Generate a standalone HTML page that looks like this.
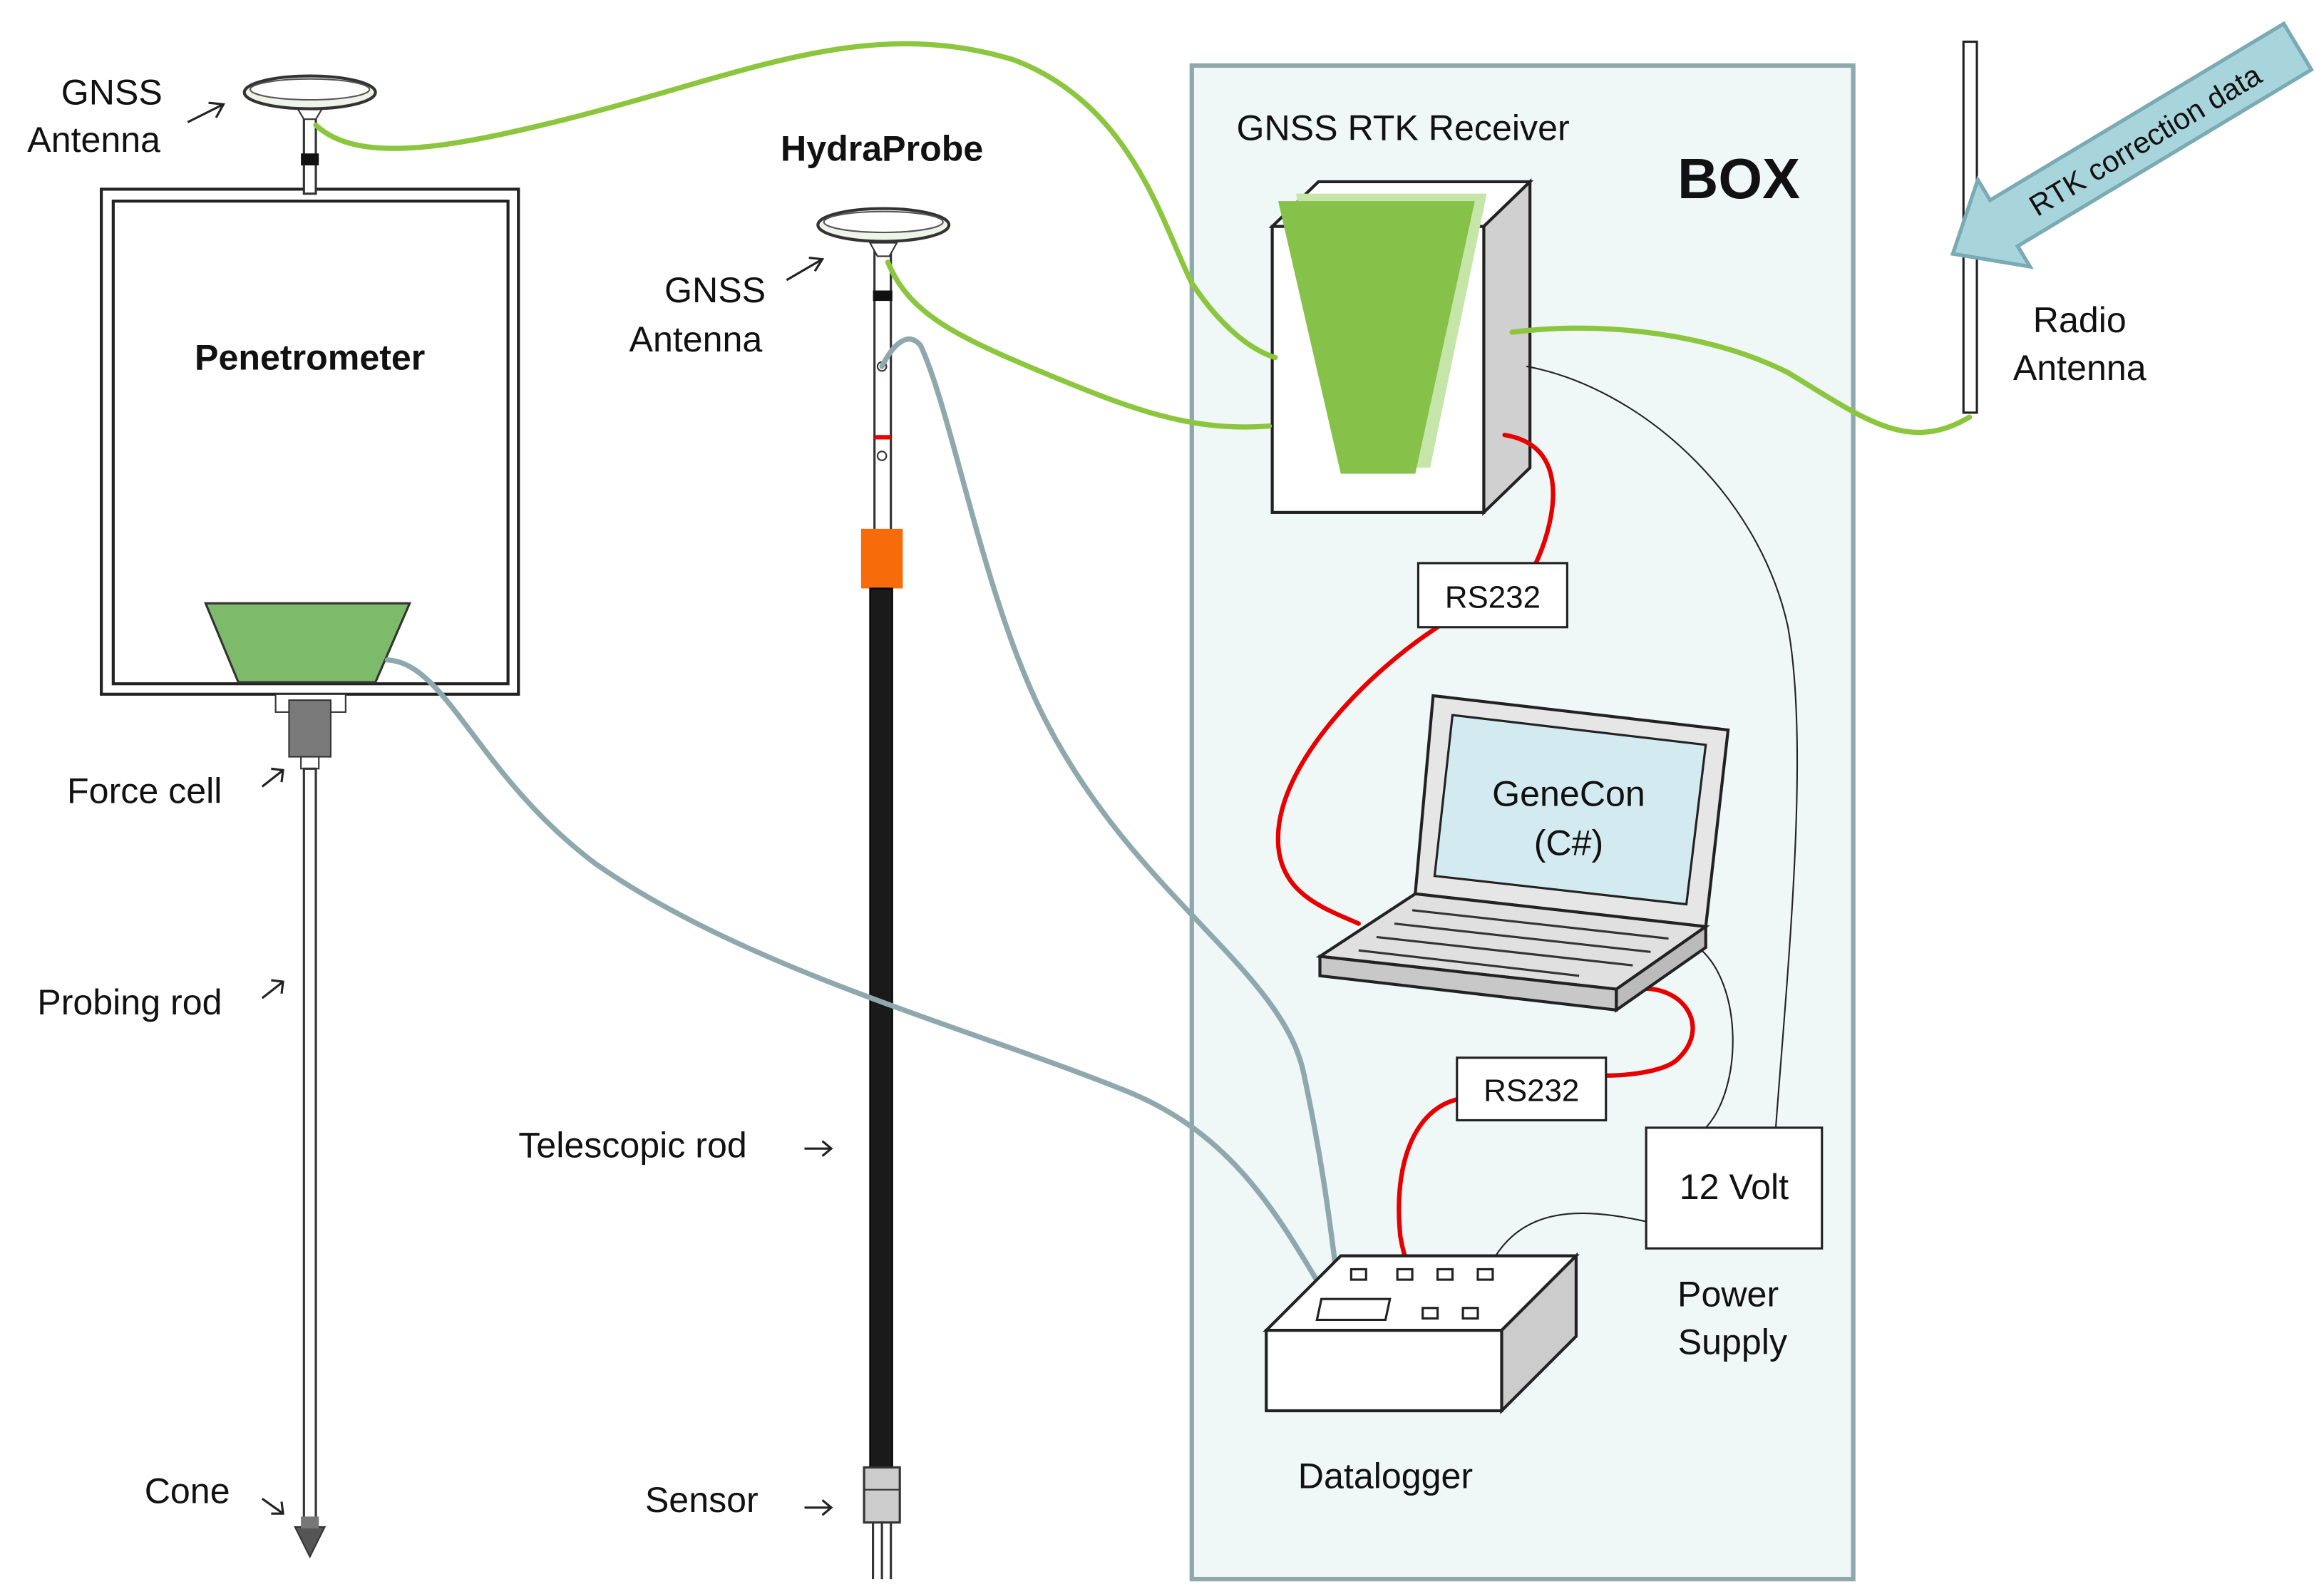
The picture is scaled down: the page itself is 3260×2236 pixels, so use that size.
<!DOCTYPE html>
<html><head><meta charset="utf-8"><style>
html,body{margin:0;padding:0;background:#fff;}
svg{display:block;}
text{font-family:"Liberation Sans",sans-serif;fill:#111;}
</style></head><body>
<svg width="3260" height="2236" viewBox="0 0 1560 1070" xmlns="http://www.w3.org/2000/svg">
<!-- BOX -->
<rect x="800" y="44" width="444" height="1016" fill="#eff7f7" stroke="#8fa8ad" stroke-width="3"/>
<text x="1126" y="133" font-size="38" font-weight="bold">BOX</text>
<text x="830" y="94" font-size="24">GNSS RTK Receiver</text>

<!-- Penetrometer -->
<rect x="68" y="127" width="280" height="339" fill="#fff" stroke="#222" stroke-width="2"/>
<rect x="76" y="135" width="265" height="324" fill="#fff" stroke="#222" stroke-width="2"/>
<text x="208" y="248" font-size="24" font-weight="bold" text-anchor="middle">Penetrometer</text>
<polygon points="138,405 275,405 252,458 160,458" fill="#7dba6a" stroke="#333" stroke-width="1.5"/>
<!-- top-left antenna -->
<rect x="204" y="72" width="8" height="58" fill="#fff" stroke="#333" stroke-width="1.5"/>
<rect x="202" y="103" width="12" height="8" fill="#111"/>
<path d="M198,70 L218,70 L212,80 L204,80 Z" fill="#fff" stroke="#333"/>
<ellipse cx="208" cy="62" rx="44" ry="11" fill="#eef5e8" stroke="#333" stroke-width="2"/>
<ellipse cx="208" cy="60" rx="40" ry="7" fill="#fff" stroke="#555" stroke-width="1"/>
<text x="75" y="70" font-size="24" text-anchor="middle">GNSS</text>
<text x="63" y="102" font-size="24" text-anchor="middle">Antenna</text>
<path d="M126,82 L150,70 M140,69 L150,70 L145,79" fill="none" stroke="#222" stroke-width="1.5"/>
<!-- Force cell & rod -->
<rect x="185" y="466" width="47" height="12" fill="#fff" stroke="#333"/>
<rect x="194" y="470" width="28" height="38" fill="#7a7a7a" stroke="#333"/>
<rect x="202" y="508" width="12" height="8" fill="#fff" stroke="#333"/>
<rect x="204" y="516" width="8" height="505" fill="#fff" stroke="#333" stroke-width="1.5"/>
<polygon points="198,1025 218,1025 208,1045" fill="#555" stroke="#333"/>
<rect x="202" y="1018" width="12" height="8" fill="#777"/>
<text x="45" y="539" font-size="24">Force cell</text>
<text x="25" y="681" font-size="24">Probing rod</text>
<text x="97" y="1009" font-size="24">Cone</text>
<g fill="none" stroke="#222" stroke-width="1.5">
<path d="M176,528 L190,517 M182,516 L190,517 L189,525"/>
<path d="M176,670 L190,659 M182,658 L190,659 L189,667"/>
<path d="M176,1006 L190,1016 M189,1008 L190,1016 L182,1016"/>
<path d="M528,188 L552,174 M543,173 L552,174 L547,182"/>
<path d="M540,771 L558,771 M552,766 L558,771 L552,776"/>
<path d="M540,1012 L558,1012 M552,1007 L558,1012 L552,1017"/>
</g>

<!-- HydraProbe -->
<text x="592" y="108" font-size="24" font-weight="bold" text-anchor="middle">HydraProbe</text>
<rect x="587" y="168" width="11" height="188" fill="#fff" stroke="#333" stroke-width="1.5"/>
<rect x="586" y="195" width="13" height="7" fill="#111"/>
<rect x="587" y="292" width="11" height="3" fill="#e00"/>
<circle cx="592" cy="306" r="3" fill="#fff" stroke="#333"/>
<circle cx="592" cy="246" r="3" fill="#fff" stroke="#333"/>
<path d="M584,163 L602,163 L597,172 L589,172 Z" fill="#fff" stroke="#333"/>
<ellipse cx="593" cy="151" rx="44" ry="11" fill="#eef5e8" stroke="#333" stroke-width="2"/>
<ellipse cx="593" cy="149" rx="40" ry="7" fill="#fff" stroke="#555"/>
<rect x="578" y="355" width="28" height="40" fill="#f76b0b"/>
<rect x="584" y="395" width="15" height="590" fill="#1a1a1a" stroke="#000"/>
<rect x="580" y="985" width="24" height="37" fill="#ccc" stroke="#333" stroke-width="1.5"/>
<line x1="580" y1="1000" x2="604" y2="1000" stroke="#333"/>
<path d="M586,1022 V1060 M592,1022 V1060 M598,1022 V1060" stroke="#333" stroke-width="1.5"/>
<text x="480" y="203" font-size="24" text-anchor="middle">GNSS</text>
<text x="467" y="236" font-size="24" text-anchor="middle">Antenna</text>
<text x="348" y="777" font-size="24">Telescopic rod</text>
<text x="433" y="1015" font-size="24">Sensor</text>

<!-- Receiver 3D box -->
<polygon points="854,152 885,122 1027,122 996,152" fill="#fff" stroke="#222" stroke-width="2"/>
<polygon points="996,152 1027,122 1027,314 996,344" fill="#d0d0d0" stroke="#222" stroke-width="2"/>
<rect x="854" y="152" width="142" height="192" fill="#fff" stroke="#222" stroke-width="2"/>
<polygon points="870,130 998,130 960,314 905,314" fill="#c5e6a8"/>
<polygon points="858,135 990,135 950,318 900,318" fill="#86c24a"/>

<!-- Radio antenna -->
<rect x="1318" y="28" width="9" height="249" fill="#fff" stroke="#222" stroke-width="1.5"/>
<text x="1396" y="223" font-size="24" text-anchor="middle">Radio</text>
<text x="1396" y="255" font-size="24" text-anchor="middle">Antenna</text>
<!-- RTK arrow -->
<g transform="translate(1448,88) rotate(-31)">
<polygon points="-120,-18 110,-18 110,18 -120,18 -120,34 -160,0 -120,-34" fill="#a8d4dc" stroke="#7aaab4" stroke-width="2.5"/>
<text x="-10" y="8" font-size="20" text-anchor="middle">RTK correction data</text>
</g>

<!-- Cables -->
<g fill="none" stroke-linecap="round">
<path d="M212,84 C240,110 300,100 380,80 C500,50 580,10 680,40 C760,70 780,150 800,190 C820,220 840,235 856,240" stroke="#8cc63f" stroke-width="3.5"/>
<path d="M596,176 C610,210 640,225 700,250 C760,275 800,290 852,286" stroke="#8cc63f" stroke-width="3.5"/>
<path d="M1015,223 C1080,215 1150,225 1200,250 C1250,280 1280,305 1322,280" stroke="#8cc63f" stroke-width="3.5"/>
<path d="M260,443 C300,445 320,520 400,580 C500,650 650,690 750,730 C830,760 860,820 895,878" stroke="#8fa8ad" stroke-width="3.5"/>
<path d="M592,246 C600,230 610,222 618,232 C640,280 660,400 700,480 C760,600 860,650 875,720 C890,790 895,840 900,878" stroke="#8fa8ad" stroke-width="3.5"/>
<path d="M1010,292 C1060,300 1040,360 1030,380 M965,421 C920,450 860,510 858,560 C856,600 890,610 912,620" stroke="#e60000" stroke-width="3"/>
<path d="M1098,664 C1130,660 1150,690 1125,712 C1115,720 1090,722 1078,722 M978,738 C950,745 935,780 940,830 C945,860 958,870 960,880" stroke="#e60000" stroke-width="3"/>
<path d="M1025,246 C1100,260 1180,330 1200,420 C1215,500 1200,650 1192,757" stroke="#222" stroke-width="1"/>
<path d="M1140,636 C1170,660 1170,730 1145,757" stroke="#222" stroke-width="1"/>
<path d="M1105,820 C1060,810 1020,810 1000,850" stroke="#222" stroke-width="1"/>
</g>

<!-- RS232 boxes -->
<rect x="952" y="378" width="100" height="43" fill="#fff" stroke="#222" stroke-width="1.5"/>
<text x="1002" y="408" font-size="21" text-anchor="middle">RS232</text>
<rect x="978" y="710" width="100" height="42" fill="#fff" stroke="#222" stroke-width="1.5"/>
<text x="1028" y="739" font-size="21" text-anchor="middle">RS232</text>

<!-- Laptop -->
<polygon points="962,467 1160,490 1145,622 950,600" fill="#e6e6e6" stroke="#222" stroke-width="2"/>
<polygon points="975,480 1145,500 1132,607 963,588" fill="#d3eaf0" stroke="#222" stroke-width="1.5"/>
<text x="1053" y="541" font-size="24" text-anchor="middle">GeneCon</text>
<text x="1053" y="574" font-size="24" text-anchor="middle">(C#)</text>
<polygon points="950,600 1145,622 1085,664 886,642" fill="#e0e0e0" stroke="#222" stroke-width="2"/>
<polygon points="886,642 1085,664 1085,678 886,655" fill="#c8c8c8" stroke="#222" stroke-width="2"/>
<polygon points="1085,664 1145,622 1145,636 1085,678" fill="#bbb" stroke="#222" stroke-width="2"/>
<g stroke="#333" stroke-width="1.5">
<line x1="948" y1="611" x2="1120" y2="630"/><line x1="936" y1="620" x2="1108" y2="639"/>
<line x1="924" y1="629" x2="1096" y2="648"/><line x1="912" y1="638" x2="1060" y2="655"/>
</g>

<!-- 12 Volt -->
<rect x="1105" y="757" width="118" height="81" fill="#fff" stroke="#222" stroke-width="1.5"/>
<text x="1164" y="805" font-size="24" text-anchor="middle">12 Volt</text>
<text x="1160" y="877" font-size="24" text-anchor="middle">Power</text>
<text x="1163" y="909" font-size="24" text-anchor="middle">Supply</text>

<!-- Datalogger -->
<polygon points="850,893 900,843 1058,843 1008,893" fill="#fff" stroke="#222" stroke-width="2"/>
<polygon points="1008,893 1058,843 1058,897 1008,947" fill="#ccc" stroke="#222" stroke-width="2"/>
<rect x="850" y="893" width="158" height="54" fill="#fff" stroke="#222" stroke-width="2"/>
<g fill="#fff" stroke="#222" stroke-width="1.5">
<rect x="907" y="852" width="10" height="7"/><rect x="938" y="852" width="10" height="7"/>
<rect x="965" y="852" width="10" height="7"/><rect x="992" y="852" width="10" height="7"/>
<rect x="955" y="878" width="10" height="7"/><rect x="982" y="878" width="10" height="7"/>
<polygon points="887,872 933,872 930,886 884,886"/>
</g>
<text x="930" y="999" font-size="24" text-anchor="middle">Datalogger</text>
</svg>
</body></html>
